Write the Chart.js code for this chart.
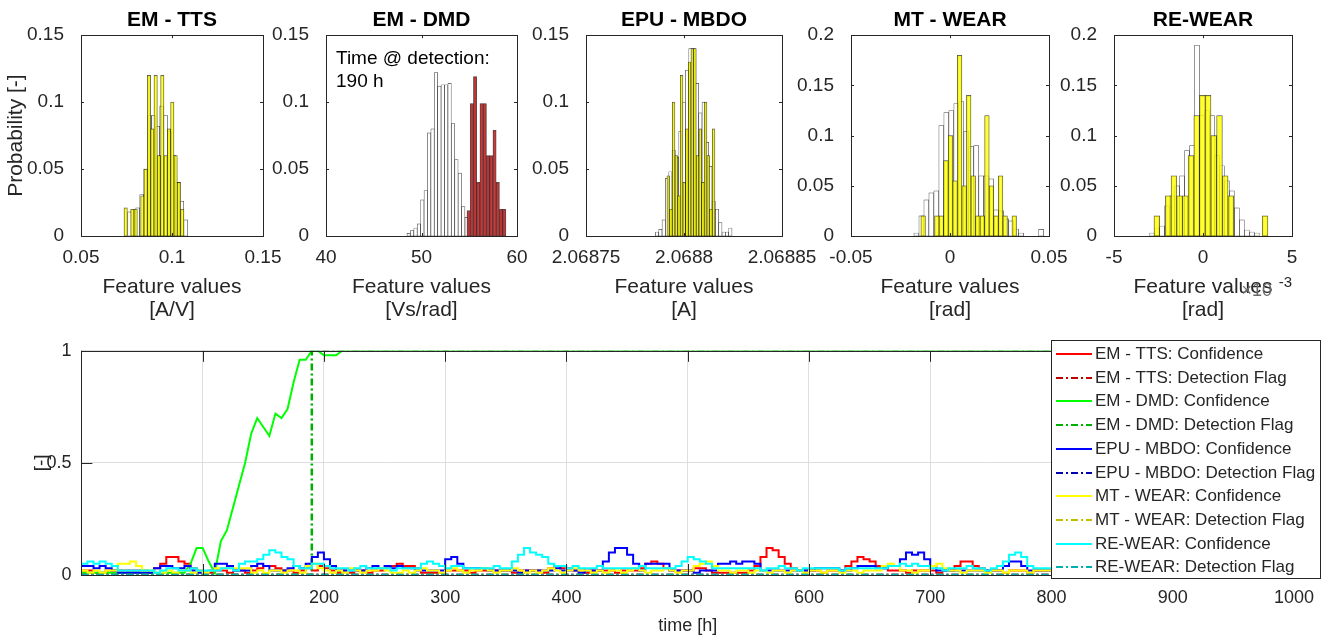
<!DOCTYPE html>
<html>
<head>
<meta charset="utf-8">
<title>Feature histograms and detection confidence</title>
<script src="https://cdn.jsdelivr.net/npm/chart.js@4.4.1/dist/chart.umd.min.js"></script>
<style>
  html, body { margin: 0; padding: 0; background: #fff; }
  #figure { position: relative; width: 1335px; height: 639px; overflow: hidden; }
  #figure canvas { position: absolute; }
</style>
</head>
<body>
<div id="figure">
  <canvas id="h-tts" width="303" height="330" style="left:0px;top:0px"></canvas>
  <canvas id="h-dmd" width="301" height="330" style="left:256px;top:0px"></canvas>
  <canvas id="h-epu" width="306" height="330" style="left:516px;top:0px"></canvas>
  <canvas id="h-mt" width="308" height="330" style="left:781px;top:0px"></canvas>
  <canvas id="h-re" width="288" height="330" style="left:1044px;top:0px"></canvas>
  <canvas id="timeline" width="1335" height="309" style="left:0px;top:330px"></canvas>
</div>
<script>
// ---------- histogram data: first bin edge, bin width, probability per bin ----------
const ttsRefStart = 0.07565, ttsRefWidth = 0.0022;
const ttsRefProb = [0.018, 0.020, 0.021, 0.031, 0.050, 0.090, 0.090, 0.082, 0.097, 0.090, 0.078, 0.060, 0.040, 0.026, 0.012];
const ttsCurStart = 0.07363, ttsCurWidth = 0.00183;
const ttsCurProb = [0.021, 0, 0.020, 0.020, 0, 0.030, 0.050, 0.120, 0.080, 0.120, 0.060, 0.120, 0.060, 0.080, 0.100, 0.060, 0.040, 0.020];

const dmdRefStart = 48.48, dmdRefWidth = 0.357;
const dmdRefProb = [0.002, 0.004, 0.006, 0.009, 0.027, 0.034, 0.077, 0.080, 0.122, 0.112, 0.113, 0.113, 0.114, 0.084, 0.057, 0.047, 0.022, 0.014];
const dmdCurStart = 54.76, dmdCurWidth = 0.34;
const dmdCurProb = [0.019, 0.099, 0.119, 0.040, 0.099, 0.099, 0.060, 0.060, 0.079, 0.040, 0.020, 0.020];

const epuRefStart = 2.0687854, epuRefWidth = 0.0000017;
const epuRefProb = [0.003, 0.005, 0.012, 0.043, 0.048, 0.064, 0.059, 0.078, 0.100, 0.124, 0.140, 0.140, 0.114, 0.092, 0.100, 0.070, 0.052, 0.026, 0.020, 0.010, 0.003, 0.003, 0.006];
const epuCurStart = 2.0687913, epuCurWidth = 0.00000136;
const epuCurProb = [0.045, 0.020, 0.100, 0.060, 0.030, 0.120, 0.040, 0.080, 0.130, 0.140, 0.140, 0.060, 0.080, 0.040, 0.100, 0.060, 0.020, 0.080];

const mtRefStart = -0.01824, mtRefWidth = 0.00252;
const mtRefProb = [0.003, 0.020, 0.036, 0.043, 0.045, 0.110, 0.123, 0.125, 0.132, 0.134, 0.104, 0.089, 0.090, 0.060, 0.060, 0.057, 0.026, 0.025, 0.017, 0.015, 0.007, 0.003, 0, 0, 0, 0.0066];
const mtCurStart = -0.0147, mtCurWidth = 0.0023;
const mtCurProb = [0.020, 0, 0, 0.020, 0.020, 0.075, 0.100, 0.055, 0.180, 0.050, 0.140, 0.060, 0.020, 0.020, 0.120, 0.050, 0.020, 0.060, 0.020, 0, 0.020];

const reRefStart = -0.002996, reRefWidth = 0.00028;
const reRefProb = [0.003, 0.008, 0.010, 0.030, 0.040, 0.050, 0.060, 0.085, 0.090, 0.190, 0.120, 0.125, 0.120, 0.080, 0.070, 0.055, 0.045, 0.028, 0.016, 0.006, 0.004, 0.003];
const reCurStart = -0.002753, reCurWidth = 0.00032;
const reCurProb = [0.020, 0, 0.040, 0.060, 0.040, 0.040, 0.080, 0.120, 0.140, 0.140, 0.100, 0.120, 0.060, 0.040, 0, 0, 0, 0, 0, 0.020];

const detectionTime = 190;

// ---------- timeline data: one value every 5 h, from 0 h to 805 h ----------
const hours = Array.from({ length: 162 }, (_, i) => i * 5);

const ttsConf = [
  0.02,0.02,0.01,0.01,0.02,0.02,0.02,0.02,0.02,0.02, 0.02,0.01,0.03,0.05,0.08,0.08,0.06,0.05,0.03,0.02,
  0.01,0.01,0.02,0.02,0.01,0.02,0.02,0.01,0.02,0.03, 0.04,0.04,0.03,0.02,0.02,0.01,0.02,0.03,0.02,0.04,
  0.03,0.02,0.01,0.02,0.01,0.02,0.02,0.01,0.02,0.02, 0.03,0.04,0.05,0.04,0.04,0.03,0.01,0.01,0.01,0.01,
  0.02,0.02,0.02,0.02,0.01,0.02,0.02,0.02,0.02,0.02, 0.02,0.01,0.02,0.02,0.02,0.02,0.01,0.03,0.04,0.03,
  0.03,0.02,0.02,0.01,0.02,0.02,0.02,0.02,0.01,0.02, 0.02,0.02,0.03,0.05,0.06,0.05,0.03,0.02,0.02,0.02,
  0.02,0.03,0.03,0.02,0.01,0.01,0.01,0.01,0.01,0.01, 0.02,0.04,0.08,0.12,0.11,0.08,0.05,0.03,0.02,0.02,
  0.02,0.02,0.01,0.02,0.02,0.02,0.04,0.06,0.08,0.07, 0.06,0.04,0.03,0.02,0.02,0.02,0.01,0.02,0.02,0.02,
  0.02,0.01,0.02,0.02,0.04,0.06,0.06,0.04,0.03,0.02, 0.02,0.02,0.01,0.02,0.02,0.02,0.01,0.02,0.02,0.02,
  0.02,0.02
];
const dmdConf = [
  0.01,0.01,0.01,0.01,0.01,0.01,0.01,0.01,0.01,0.01, 0.01,0.01,0.01,0.01,0.01,0.01,0.01,0.01,0.05,0.12,
  0.12,0.06,0.01,0.15,0.20,0.30,0.40,0.50,0.63,0.70, 0.66,0.62,0.72,0.70,0.74,0.86,0.96,0.96,1,1,
  0.98,0.98,0.98,1,1,1,1,1,1,1, 1,1,1,1,1,1,1,1,1,1,
  1,1,1,1,1,1,1,1,1,1, 1,1,1,1,1,1,1,1,1,1,
  1,1,1,1,1,1,1,1,1,1, 1,1,1,1,1,1,1,1,1,1,
  1,1,1,1,1,1,1,1,1,1, 1,1,1,1,1,1,1,1,1,1,
  1,1,1,1,1,1,1,1,1,1, 1,1,1,1,1,1,1,1,1,1,
  1,1,1,1,1,1,1,1,1,1, 1,1,1,1,1,1,1,1,1,1,
  1,1
];
const epuConf = [
  0.04,0.04,0.03,0.04,0.03,0.02,0.01,0.01,0.01,0.01, 0.01,0.01,0.03,0.04,0.04,0.03,0.03,0.04,0.02,0.01,
  0.01,0.02,0.05,0.05,0.04,0.02,0.02,0.02,0.04,0.05, 0.04,0.02,0.02,0.02,0.03,0.04,0.03,0.05,0.08,0.10,
  0.07,0.04,0.02,0.02,0.02,0.02,0.02,0.03,0.04,0.03, 0.04,0.03,0.04,0.03,0.03,0.02,0.02,0.02,0.02,0.02,
  0.07,0.08,0.05,0.03,0.03,0.03,0.03,0.02,0.02,0.02, 0.02,0.02,0.01,0.02,0.02,0.02,0.02,0.02,0.03,0.02,
  0.02,0.02,0.01,0.02,0.02,0.02,0.06,0.10,0.12,0.12, 0.09,0.05,0.02,0.05,0.05,0.05,0.05,0.02,0.02,0.02,
  0.02,0.01,0.02,0.02,0.02,0.05,0.05,0.06,0.05,0.06, 0.06,0.05,0.02,0.02,0.02,0.02,0.02,0.02,0.02,0.02,
  0.02,0.03,0.03,0.03,0.03,0.02,0.02,0.03,0.04,0.04, 0.04,0.03,0.03,0.04,0.04,0.07,0.10,0.09,0.10,0.07,
  0.04,0.02,0.02,0.02,0.02,0.02,0.02,0.02,0.02,0.02, 0.02,0.02,0.04,0.06,0.06,0.04,0.02,0.02,0.02,0.02,
  0.02,0.03
];
const mtConf = [
  0.02,0.01,0.02,0.01,0.02,0.02,0.05,0.05,0.06,0.04, 0.02,0.02,0.01,0.01,0.02,0.01,0.02,0.02,0.01,0.02,
  0.01,0.02,0.03,0.03,0.03,0.03,0.03,0.03,0.01,0.02, 0.01,0.02,0.02,0.01,0.02,0.02,0.01,0.04,0.05,0.03,
  0.02,0.01,0.02,0.01,0.03,0.02,0.01,0.02,0.02,0.03, 0.02,0.01,0.01,0.02,0.01,0.02,0.03,0.02,0.02,0.01,
  0.02,0.03,0.02,0.01,0.02,0.02,0.03,0.02,0.01,0.02, 0.02,0.03,0.02,0.01,0.02,0.01,0.02,0.03,0.02,0.01,
  0.02,0.03,0.02,0.02,0.01,0.02,0.01,0.02,0.02,0.01, 0.02,0.03,0.02,0.01,0.02,0.02,0.03,0.02,0.01,0.02,
  0.02,0.04,0.05,0.06,0.04,0.02,0.02,0.01,0.02,0.02, 0.01,0.02,0.02,0.01,0.02,0.02,0.01,0.02,0.02,0.01,
  0.02,0.02,0.01,0.02,0.02,0.01,0.02,0.02,0.01,0.02, 0.02,0.02,0.04,0.05,0.04,0.02,0.02,0.01,0.02,0.02,
  0.04,0.05,0.03,0.02,0.02,0.01,0.02,0.02,0.02,0.01, 0.02,0.02,0.01,0.02,0.02,0.02,0.01,0.02,0.02,0.02,
  0.02,0.02
];
const reConf = [
  0.05,0.06,0.05,0.06,0.05,0.04,0.02,0.02,0.02,0.02, 0.02,0.02,0.01,0.02,0.03,0.03,0.02,0.02,0.03,0.02,
  0.02,0.02,0.02,0.03,0.03,0.02,0.05,0.06,0.06,0.07, 0.09,0.11,0.10,0.08,0.07,0.04,0.03,0.03,0.05,0.05,
  0.04,0.03,0.03,0.03,0.02,0.03,0.04,0.03,0.03,0.03, 0.03,0.02,0.03,0.03,0.03,0.03,0.05,0.06,0.05,0.04,
  0.03,0.04,0.04,0.03,0.03,0.03,0.03,0.03,0.04,0.03, 0.03,0.06,0.09,0.12,0.10,0.09,0.08,0.05,0.04,0.04,
  0.03,0.04,0.03,0.03,0.03,0.04,0.03,0.03,0.03,0.03, 0.03,0.03,0.04,0.03,0.03,0.03,0.03,0.03,0.04,0.06,
  0.08,0.07,0.06,0.05,0.03,0.03,0.03,0.03,0.03,0.03, 0.03,0.03,0.02,0.03,0.03,0.04,0.03,0.03,0.02,0.03,
  0.03,0.03,0.03,0.03,0.03,0.02,0.03,0.03,0.03,0.03, 0.03,0.03,0.03,0.04,0.04,0.05,0.04,0.05,0.04,0.04,
  0.03,0.03,0.02,0.03,0.03,0.03,0.04,0.03,0.03,0.02, 0.03,0.04,0.06,0.09,0.10,0.08,0.04,0.03,0.03,0.03,
  0.03,0.03
];

// detection flags only change at the detection time
const flagHours = [0, detectionTime, 805];
const ttsFlag = [0, 0, 0];
const dmdFlag = [0, 1, 1];
const epuFlag = [0, 0, 0];
const mtFlag = [0, 0, 0];
const reFlag = [0, 0, 0];

const monitors = ['EM - TTS', 'EM - DMD', 'EPU - MBDO', 'MT - WEAR', 'RE-WEAR'];
const confidence = [ttsConf, dmdConf, epuConf, mtConf, reConf];
const flags = [ttsFlag, dmdFlag, epuFlag, mtFlag, reFlag];

// ---------- styling ----------
const INK = '#262626';
const FONT = '"Liberation Sans", Arial, Helvetica, sans-serif';
const confColors = ['#ff0000', '#00ff00', '#0000ff', '#ffff00', '#00ffff'];
const flagColors = ['#c00000', '#00b000', '#0000b0', '#c0c000', '#00b0b0'];

Chart.defaults.font.family = FONT;
Chart.defaults.color = INK;
Chart.defaults.animation = false;

// box around the axes with small inward tick marks
const matlabBox = {
  id: 'matlabBox',
  afterDatasetsDraw(chart, args, opts) {
    const { ctx, chartArea: a } = chart;
    const xs = chart.scales.x, ys = chart.scales.y;
    const len = opts.tickLength || 3;
    ctx.save();
    ctx.strokeStyle = INK;
    ctx.lineWidth = 1;
    ctx.beginPath();
    xs.ticks.forEach(t => {
      const p = Math.round(xs.getPixelForValue(t.value)) + 0.5;
      ctx.moveTo(p, a.bottom); ctx.lineTo(p, a.bottom - len);
      ctx.moveTo(p, a.top); ctx.lineTo(p, a.top + len);
    });
    ys.ticks.forEach(t => {
      const p = Math.round(ys.getPixelForValue(t.value)) + 0.5;
      ctx.moveTo(a.left, p); ctx.lineTo(a.left + len, p);
      ctx.moveTo(a.right, p); ctx.lineTo(a.right - len, p);
    });
    ctx.stroke();
    ctx.strokeRect(Math.round(a.left) + 0.5, Math.round(a.top) + 0.5, Math.round(a.width), Math.round(a.height));
    ctx.restore();
  }
};

const detectionNote = {
  id: 'detectionNote',
  afterDraw(chart) {
    const { ctx, chartArea: a } = chart;
    ctx.save();
    ctx.font = '19px ' + FONT;
    ctx.fillStyle = '#000';
    ctx.textBaseline = 'middle';
    ctx.fillText('Time @ detection:', a.left + 10, a.top + 24);
    ctx.fillText(detectionTime + ' h', a.left + 10, a.top + 47);
    ctx.restore();
  }
};

const exponentNote = {
  id: 'exponentNote',
  afterDraw(chart) {
    const { ctx, chartArea: a } = chart;
    ctx.save();
    ctx.textAlign = 'right';
    ctx.textBaseline = 'middle';
    ctx.fillStyle = '#6a6a6a';
    ctx.font = '18px ' + FONT;
    ctx.fillText('\u00d710', a.right - 20, a.bottom + 55);
    ctx.fillStyle = INK;
    ctx.font = '15px ' + FONT;
    ctx.fillText('-3', a.right, a.bottom + 47);
    ctx.restore();
  }
};

function bins(start, width, probs) {
  return probs.map((p, i) => ({ x: start + (i + 0.5) * width, y: p }));
}

const barStyle = { barPercentage: 1, categoryPercentage: 1, grouped: false, borderWidth: 0.7, borderColor: 'rgba(0,0,0,0.7)', borderSkipped: false };

function histogram(canvasId, h) {
  new Chart(document.getElementById(canvasId), {
    type: 'bar',
    data: {
      datasets: [
        Object.assign({ label: 'current', data: h.cur, xAxisID: 'xc', backgroundColor: h.curColor, order: 0 }, barStyle),
        Object.assign({ label: 'reference', data: h.ref, xAxisID: 'x', backgroundColor: '#ffffff', order: 1 }, barStyle)
      ]
    },
    options: {
      responsive: false,
      events: [],
      layout: { padding: { left: 0, right: 40, top: 0, bottom: 4 } },
      plugins: {
        legend: { display: false },
        tooltip: { enabled: false },
        title: { display: true, fullSize: false, text: h.title, color: '#000', font: { size: 21, weight: 'bold' }, padding: { top: 8, bottom: 2 } },
        matlabBox: { tickLength: 3 }
      },
      scales: {
        x: {
          type: 'linear', min: h.xMin, max: h.xMax, offset: false,
          grid: { display: false }, border: { display: false },
          ticks: { stepSize: h.xStep, padding: 2, autoSkip: false, maxRotation: 0, font: { size: 19 }, callback: h.xFormat },
          title: { display: true, text: ['Feature values', h.unit], font: { size: 21, lineHeight: 1.1 }, padding: { top: 0, bottom: 4 } },
          afterFit: s => { s.height = 90; }
        },
        xc: { type: 'linear', display: false, min: h.xMin, max: h.xMax, offset: false },
        y: {
          min: 0, max: h.yMax,
          grid: { display: false }, border: { display: false },
          ticks: { stepSize: 0.05, padding: 9, font: { size: 19 }, callback: v => String(+v.toFixed(3)) },
          title: { display: !!h.yTitle, text: 'Probability [-]', font: { size: 21 }, padding: { top: 4, bottom: 0 } },
          afterFit: s => { s.width = h.axisWidth; }
        }
      }
    },
    plugins: [matlabBox].concat(h.extra || [])
  });
}

const plain = v => String(+v.toFixed(5));
const yellow = 'rgba(255,255,0,0.8)';

histogram('h-tts', { title: 'EM - TTS', unit: '[A/V]', xMin: 0.05, xMax: 0.15, xStep: 0.05, yMax: 0.15, xFormat: plain,
  ref: bins(ttsRefStart, ttsRefWidth, ttsRefProb), cur: bins(ttsCurStart, ttsCurWidth, ttsCurProb),
  curColor: yellow, yTitle: true, axisWidth: 81 });
histogram('h-dmd', { title: 'EM - DMD', unit: '[Vs/rad]', xMin: 40, xMax: 60, xStep: 10, yMax: 0.15, xFormat: plain,
  ref: bins(dmdRefStart, dmdRefWidth, dmdRefProb), cur: bins(dmdCurStart, dmdCurWidth, dmdCurProb),
  curColor: 'rgba(185,40,40,0.9)', axisWidth: 70, extra: [detectionNote] });
histogram('h-epu', { title: 'EPU - MBDO', unit: '[A]', xMin: 2.06875, xMax: 2.06885, xStep: 0.00005, yMax: 0.15, xFormat: plain,
  ref: bins(epuRefStart, epuRefWidth, epuRefProb), cur: bins(epuCurStart, epuCurWidth, epuCurProb),
  curColor: yellow, axisWidth: 70 });
histogram('h-mt', { title: 'MT - WEAR', unit: '[rad]', xMin: -0.05, xMax: 0.05, xStep: 0.05, yMax: 0.2, xFormat: plain,
  ref: bins(mtRefStart, mtRefWidth, mtRefProb), cur: bins(mtCurStart, mtCurWidth, mtCurProb),
  curColor: yellow, axisWidth: 70 });
histogram('h-re', { title: 'RE-WEAR', unit: '[rad]', xMin: -0.005, xMax: 0.005, xStep: 0.005, yMax: 0.2,
  xFormat: v => String(Math.round(v * 1000)),
  ref: bins(reRefStart, reRefWidth, reRefProb), cur: bins(reCurStart, reCurWidth, reCurProb),
  curColor: yellow, axisWidth: 70, extra: [exponentNote] });

// ---------- timeline with legend box ----------
const boxLegend = {
  id: 'boxLegend',
  afterDraw(chart) {
    const { ctx } = chart;
    const x0 = 1051, y0 = 10, w = 269, h = 238;
    ctx.save();
    ctx.fillStyle = '#fff';
    ctx.fillRect(x0, y0, w, h);
    ctx.strokeStyle = INK;
    ctx.lineWidth = 1;
    ctx.strokeRect(x0 + 0.5, y0 + 0.5, w, h);
    ctx.font = '17px ' + FONT;
    ctx.textBaseline = 'middle';
    chart.data.datasets.forEach((ds, i) => {
      const y = Math.round(y0 + 14 + i * 23.7);
      ctx.strokeStyle = ds.borderColor;
      ctx.lineWidth = 2;
      ctx.setLineDash(ds.borderDash || []);
      ctx.beginPath();
      ctx.moveTo(x0 + 5, y);
      ctx.lineTo(x0 + 41, y);
      ctx.stroke();
      ctx.setLineDash([]);
      ctx.fillStyle = INK;
      ctx.fillText(ds.label, x0 + 44, y);
    });
    ctx.restore();
  }
};

const lineSets = [];
monitors.forEach((name, k) => {
  lineSets.push({
    label: name + ': Confidence',
    data: hours.map((t, i) => ({ x: t, y: confidence[k][i] })),
    borderColor: confColors[k],
    stepped: k === 1 ? false : 'before',
    order: 20 - 2 * k
  });
  lineSets.push({
    label: name + ': Detection Flag',
    data: flagHours.map((t, i) => ({ x: t, y: flags[k][i] })),
    borderColor: flagColors[k],
    borderDash: [7, 3, 2, 3],
    borderWidth: 2.5,
    stepped: 'before',
    order: 19 - 2 * k
  });
});

new Chart(document.getElementById('timeline'), {
  type: 'line',
  data: { datasets: lineSets },
  options: {
    responsive: false,
    events: [],
    layout: { padding: { left: 26, right: 41, top: 18, bottom: 2 } },
    elements: { point: { radius: 0 }, line: { borderWidth: 2, tension: 0 } },
    plugins: {
      legend: { display: false },
      tooltip: { enabled: false },
      matlabBox: { tickLength: 11 }
    },
    scales: {
      x: {
        type: 'linear', min: 0, max: 1000,
        grid: { color: '#dedede', drawTicks: false }, border: { display: false },
        ticks: { stepSize: 100, padding: 12, font: { size: 18 }, callback: v => (v === 0 ? '' : String(v)) },
        title: { display: true, text: 'time [h]', font: { size: 18 }, padding: { top: 0, bottom: 0 } },
        afterFit: s => { s.height = 62; }
      },
      y: {
        min: 0, max: 1,
        grid: { color: '#dedede', drawTicks: false }, border: { display: false },
        ticks: { stepSize: 0.5, padding: 10, font: { size: 18 }, callback: v => String(v) },
        title: { display: true, text: '[-]', font: { size: 19 }, padding: { top: 4, bottom: 0 } },
        afterFit: s => { s.width = 55.4; }
      }
    }
  },
  plugins: [matlabBox, boxLegend]
});
</script>
</body>
</html>
